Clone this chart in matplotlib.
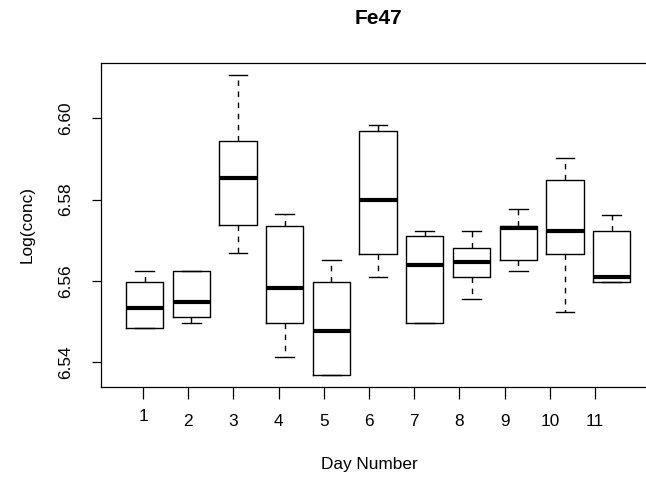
import matplotlib.pyplot as plt
import matplotlib.transforms as mtransforms

# box statistics (log concentration per day)
days = list(range(1, 12))
whislo = [6.5483, 6.5497, 6.5669, 6.5411, 6.5367, 6.5610, 6.5497, 6.5555, 6.5624, 6.5524, 6.5596]
q1 = [6.5483, 6.5510, 6.5737, 6.5497, 6.5367, 6.5667, 6.5497, 6.5610, 6.5652, 6.5666, 6.5596]
med = [6.5532, 6.5547, 6.5853, 6.5582, 6.5475, 6.5799, 6.5638, 6.5645, 6.5731, 6.5723, 6.5610]
q3 = [6.5596, 6.5624, 6.5944, 6.5736, 6.5596, 6.5970, 6.5709, 6.5680, 6.5736, 6.5847, 6.5722]
whishi = [6.5623, 6.5624, 6.6106, 6.5764, 6.5652, 6.5984, 6.5722, 6.5722, 6.5777, 6.5902, 6.5763]
yticks = [6.54, 6.56, 6.58, 6.60]

plt.rcParams['font.family'] = ['Liberation Sans', 'DejaVu Sans']

W, H = 646, 480
fig = plt.figure(figsize=(W / 100, H / 100), dpi=100)
# frame runs past the right edge of the picture, as in the reference
ax = fig.add_axes([100.9 / W, 1 - 387.3 / H, 554.5 / W, 324.0 / H])

stats = [dict(whislo=a, q1=b, med=c, q3=d, whishi=e, fliers=[])
         for a, b, c, d, e in zip(whislo, q1, med, q3, whishi)]
ax.bxp(stats, positions=days, widths=0.8, capwidths=0.4, showfliers=False,
       boxprops=dict(color='black', linewidth=1.0),
       medianprops=dict(color='black', linewidth=3.0, solid_capstyle='butt'),
       whiskerprops=dict(color='black', linewidth=1.0, linestyle=(0, (4, 4))),
       capprops=dict(color='black', linewidth=1.0))

ax.set_xlim(0.06, 11.94)
ax.set_ylim(6.53374, 6.61356)

# axis ticks sit on a slightly compressed scale relative to the boxes
tick_pos = [0.964 + (d - 1) * 0.9682 for d in days]
ax.set_xticks(tick_pos, labels=[str(d) for d in days])
ax.set_yticks(yticks, labels=['%.2f' % v for v in yticks])

ax.tick_params(axis='x', length=8.6, width=0.9, pad=10.5, labelsize=12.4)
ax.tick_params(axis='y', length=6.7, width=0.9, pad=13, labelsize=12.4, labelrotation=90)
for lab in ax.get_yticklabels():
    lab.set_va('center')

# the "1" label is drawn a little higher in the reference
first = ax.get_xticklabels()[0]
first.set_transform(first.get_transform() +
                    mtransforms.ScaledTranslation(0, 5 / 100, fig.dpi_scale_trans))

for s in ax.spines.values():
    s.set_linewidth(0.9)

fig.text(378 / W, 1 - 18.7 / H, 'Fe47', ha='center', va='center',
         fontsize=15, fontweight='bold')
fig.text(369.3 / W, 1 - 464.5 / H, 'Day Number', ha='center', va='center', fontsize=12.4)
fig.text(27.5 / W, 1 - 224.2 / H, 'Log(conc)', ha='center', va='center',
         rotation=90, fontsize=12.4)

fig.savefig('out.png', dpi=100)
